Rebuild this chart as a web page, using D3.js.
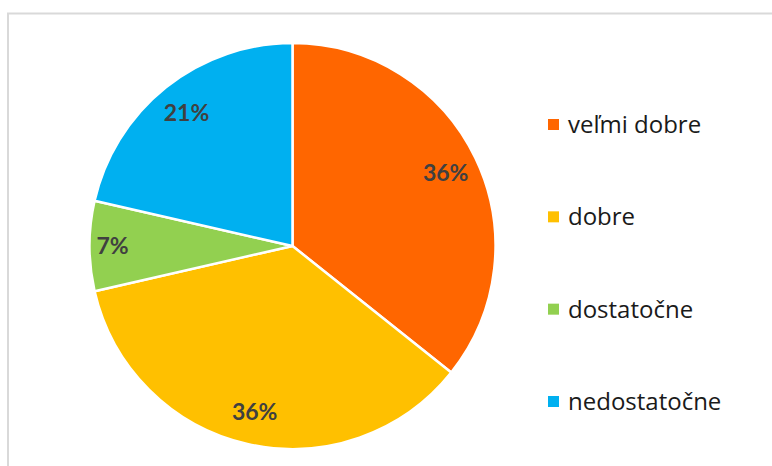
<!DOCTYPE html>
<html><head><meta charset="utf-8">
<script src="https://cdn.jsdelivr.net/npm/d3@7"></script>
<style>html,body{margin:0;padding:0;background:#fff;}svg{display:block;}</style>
</head><body>
<script>
const categories = ["veľmi dobre", "dobre", "dostatočne", "nedostatočne"];
const values = [5, 5, 1, 3];
const colors = ["#FF6600", "#FFC000", "#92D050", "#00B0F0"];

const W = 772, H = 466;
const svg = d3.select("body").append("svg").attr("width", W).attr("height", H);

// frame (top and left visible)
svg.append("path").attr("d", `M8,${H} L8,13.5 L${W},13.5`)
  .attr("fill", "none").attr("stroke", "#d9d9d9").attr("stroke-width", 2);

const cx = 292.5, cy = 246, r = 203;
const total = d3.sum(values);
const pie = d3.pie().sort(null).value(d => d)(values);
const arc = d3.arc().innerRadius(0).outerRadius(r);
const labelR = d => (d.endAngle - d.startAngle < 0.6 ? 180 : 170);

const g = svg.append("g").attr("transform", `translate(${cx},${cy})`);
g.selectAll("path.slice").data(pie).join("path")
  .attr("class", "slice")
  .attr("d", arc)
  .attr("fill", (d, i) => colors[i])
  .attr("stroke", "#fff").attr("stroke-width", 2.5).attr("stroke-linejoin", "round");

g.selectAll("text.lbl").data(pie).join("text")
  .attr("class", "lbl")
  .attr("transform", d => {
    const c = d3.arc().innerRadius(labelR(d)).outerRadius(labelR(d)).centroid(d);
    return `translate(${c[0]},${c[1]})`;
  })
  .attr("text-anchor", "middle").attr("dy", "0.36em")
  .attr("font-family", "Lato, sans-serif").attr("font-weight", "bold")
  .attr("font-size", 23).attr("fill", "#404040")
  .text(d => d3.format(".0%")(d.value / total));

const ly = d3.scalePoint().domain(categories).range([125, 402]);
const leg = svg.append("g");
leg.selectAll("rect").data(categories).join("rect")
  .attr("x", 548).attr("y", d => ly(d) - 6).attr("width", 11).attr("height", 11)
  .attr("fill", (d, i) => colors[i]);
leg.selectAll("text").data(categories).join("text")
  .attr("x", 568).attr("y", d => ly(d) + 8)
  .attr("font-family", "'Open Sans', sans-serif").attr("font-size", 24).attr("fill", "#1a1a1a")
  .text(d => d);
</script>
</body></html>
